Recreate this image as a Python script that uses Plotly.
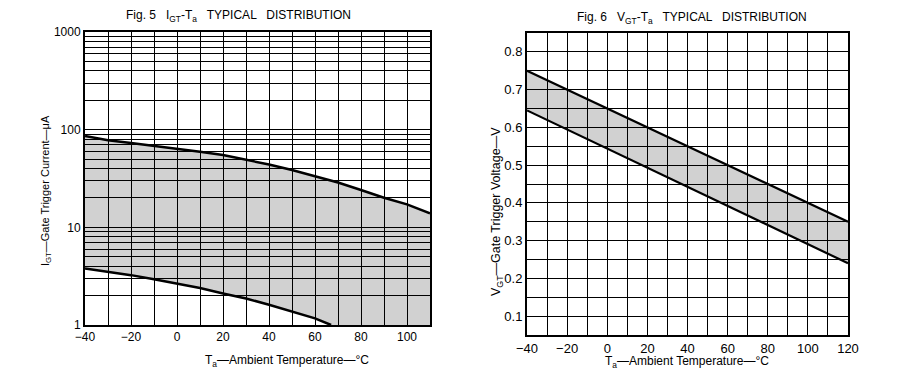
import plotly.graph_objects as go

# ---- Data ----
# Fig. 5: IGT vs Ta band (log scale), microamps
igt_upper_t = [-40, -30, -20, -10, 0, 10, 20, 30, 40, 50, 60, 70, 80, 90, 100, 110]
igt_upper = [86, 78, 73, 68.5, 64, 59.5, 55, 49.5, 44, 38.7, 33.5, 28.8, 24.1, 20.1, 17.2, 13.9]
igt_lower_t = [-40, -30, -20, -10, 0, 10, 20, 30, 40, 50, 60, 67]
igt_lower = [3.78, 3.5, 3.24, 2.94, 2.66, 2.39, 2.1, 1.87, 1.61, 1.37, 1.17, 1.0]
igt_floor_t = [110, 67]   # band continues along the 1 uA axis bottom
igt_floor = [1.0, 1.0]

# Fig. 6: VGT vs Ta band (linear), volts
vgt_t = [-40, 120]
vgt_upper = [0.75, 0.35]
vgt_lower = [0.645, 0.24]

left_xticks = [-40, -20, 0, 20, 40, 60, 80, 100]
left_yticks = [1, 10, 100, 1000]
right_xticks = [-40, -20, 0, 20, 40, 60, 80, 100, 120]
right_yticks = [0.1, 0.2, 0.3, 0.4, 0.5, 0.6, 0.7, 0.8]

W, H = 904, 385
OFF = 8  # page body margin offset
FONT = "Liberation Sans, Arial, sans-serif"
FILL = "rgba(0,0,0,0.18)"

def px_x(p):
    return (p - OFF) / W

def px_y(p):
    return 1 - (p - OFF) / H

fig = go.Figure()

# Left band fill polygon
poly_x = igt_upper_t + igt_floor_t + igt_lower_t[::-1]
poly_y = igt_upper + igt_floor + igt_lower[::-1]
fig.add_trace(go.Scatter(x=poly_x, y=poly_y, fill="toself", fillcolor=FILL,
                         line=dict(width=0), mode="lines", hoverinfo="skip",
                         xaxis="x", yaxis="y", showlegend=False))
fig.add_trace(go.Scatter(x=igt_upper_t, y=igt_upper, mode="lines",
                         line=dict(color="black", width=2.5),
                         xaxis="x", yaxis="y", showlegend=False))
fig.add_trace(go.Scatter(x=igt_lower_t, y=igt_lower,
                         mode="lines", line=dict(color="black", width=2.5),
                         xaxis="x", yaxis="y", showlegend=False))

# Right band
fig.add_trace(go.Scatter(x=vgt_t, y=vgt_lower, mode="lines",
                         line=dict(color="black", width=2.2),
                         xaxis="x2", yaxis="y2", showlegend=False))
fig.add_trace(go.Scatter(x=vgt_t, y=vgt_upper, mode="lines", fill="tonexty",
                         fillcolor=FILL, line=dict(color="black", width=2.2),
                         xaxis="x2", yaxis="y2", showlegend=False))

minor_log = [m * d for d in (1, 10, 100) for m in range(2, 10)]

def axis_common(size):
    return dict(showline=True, linecolor="black", linewidth=2, mirror=True,
                gridcolor="black", gridwidth=1, zeroline=False, ticks="",
                automargin=False,
                tickfont=dict(family=FONT, size=size, color="black"))

grid_minor = dict(showgrid=True, gridcolor="black", gridwidth=1, ticks="")

fig.update_layout(
    template="none",
    width=W, height=H,
    margin=dict(l=0, r=0, t=0, b=0, autoexpand=False),
    paper_bgcolor="white", plot_bgcolor="white",
    showlegend=False,
    xaxis=dict(domain=[px_x(85), px_x(430)], range=[-40, 110], anchor="y",
               tickvals=left_xticks, showgrid=False,
               minor=dict(dtick=10, tick0=0, **grid_minor),
               **axis_common(12)),
    yaxis=dict(domain=[px_y(325), px_y(32)], type="log", range=[0, 3], anchor="x",
               tickvals=left_yticks, ticktext=[str(v) for v in left_yticks],
               showgrid=True,
               minor=dict(tickvals=minor_log, **grid_minor),
               **axis_common(12)),
    xaxis2=dict(domain=[px_x(527), px_x(848)], range=[-40, 120], anchor="y2",
                tickvals=right_xticks, showgrid=False,
                minor=dict(dtick=10, tick0=0, **grid_minor),
                **axis_common(13)),
    yaxis2=dict(domain=[px_y(335), px_y(33)], range=[0.05, 0.85], anchor="x2",
                tickvals=right_yticks, showgrid=False,
                minor=dict(dtick=0.05, tick0=0.05, **grid_minor),
                **axis_common(13)),
)

def ann(text, x, y, size=12, angle=0):
    fig.add_annotation(text=text, x=px_x(x), y=px_y(y), xref="paper", yref="paper",
                       showarrow=False, textangle=angle, xanchor="center", yanchor="middle",
                       font=dict(family=FONT, size=size, color="black"))

ann("Fig. 5   I<sub>GT</sub>-T<sub>a</sub>   TYPICAL   DISTRIBUTION", 239, 16, size=12)
ann("Fig. 6   V<sub>GT</sub>-T<sub>a</sub>   TYPICAL   DISTRIBUTION", 692, 18, size=12)
ann("I<sub>GT</sub>\u2014Gate Trigger Current\u2014\u03bcA", 46, 191, size=11, angle=-90)
ann("V<sub>GT</sub>\u2014Gate Trigger Voltage\u2014V", 497, 212, size=12.5, angle=-90)
ann("T<sub>a</sub>\u2014Ambient Temperature\u2014\u00b0C", 287, 361, size=12)
ann("T<sub>a</sub>\u2014Ambient Temperature\u2014\u00b0C", 687, 362, size=12)

fig.write_html("out.html")
